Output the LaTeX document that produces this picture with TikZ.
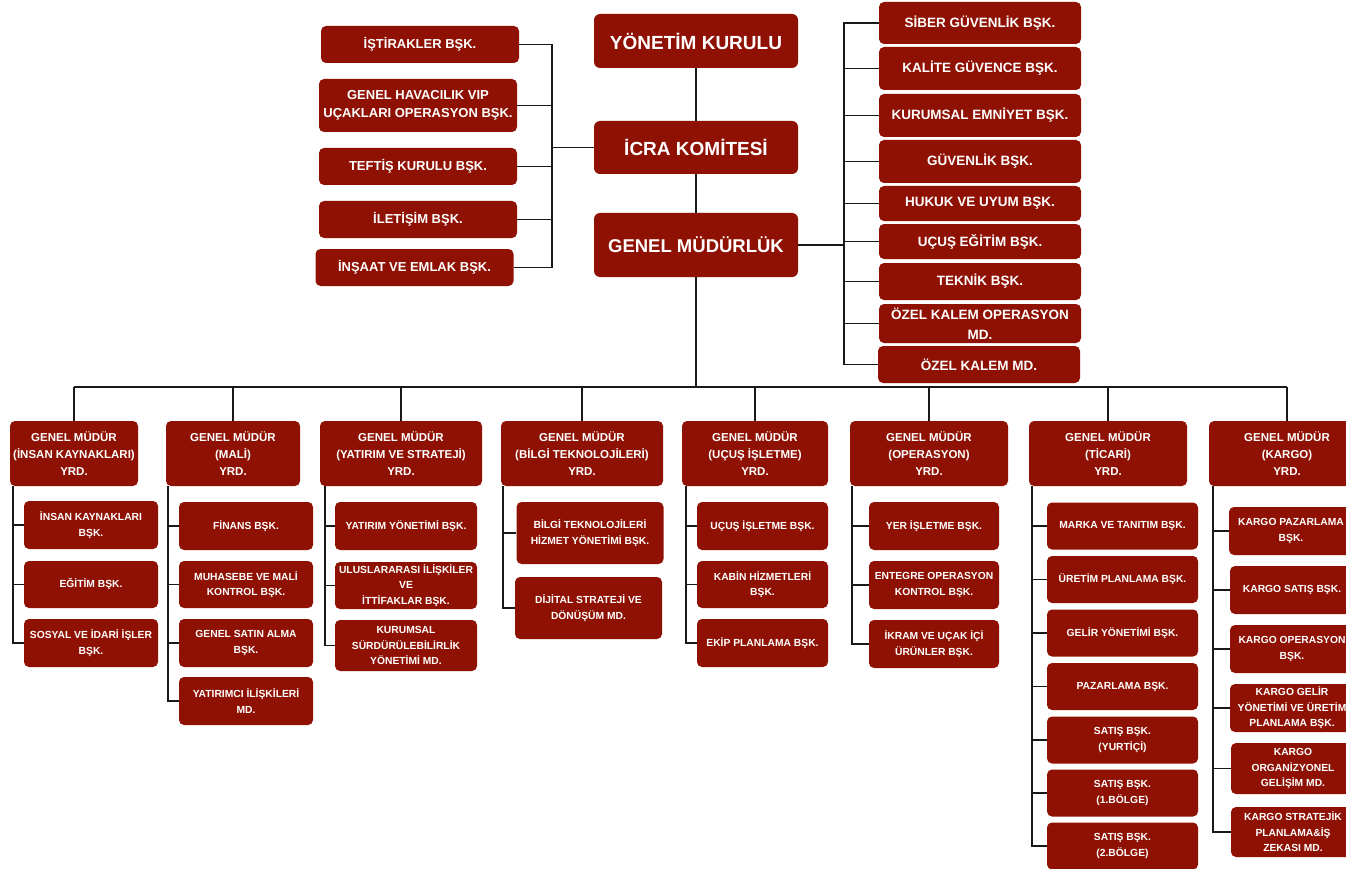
\documentclass[tikz,border=0pt]{standalone}
\usepackage{fontspec}
\setmainfont{Liberation Sans}
\definecolor{kirmizi}{RGB}{143,17,4}
\begin{document}
\begin{tikzpicture}[x=1pt,y=-1pt,
    kutu/.style={fill=kirmizi,text=white,rounded corners=5pt,inner sep=0pt,align=center,font=\bfseries\fontsize{10.3}{15.5}\selectfont},
    ust/.style={kutu,minimum width=204pt,rounded corners=6pt,font=\bfseries\fontsize{19}{22}\selectfont},
    sol/.style={kutu,minimum width=198pt,font=\bfseries\fontsize{13}{18}\selectfont},
    sag/.style={kutu,minimum width=202pt,font=\bfseries\fontsize{13.5}{20}\selectfont},
    yrd/.style={kutu,minimum height=65pt,font=\bfseries\fontsize{11.5}{17}\selectfont},
    hat/.style={line width=1.7pt,draw=black!90}]
    \path[fill=white,use as bounding box] (0,0) rectangle (1346,869);
    % ust kademe
    \node[ust,minimum height=54pt] (yk) at (696,41) {YÖNETİM KURULU};
    \node[ust,minimum height=53pt] (icra) at (696,147.5) {İCRA KOMİTESİ};
    \node[ust,minimum height=64pt,font=\bfseries\fontsize{18.5}{22}\selectfont] (gm) at (696,245) {GENEL MÜDÜRLÜK};
    % icra komitesine bagli
    \node[sol,minimum height=37pt] (ist) at (420,44.5) {İŞTİRAKLER BŞK.};
    \node[sol,minimum height=53pt] (hav) at (418,105.5) {GENEL HAVACILIK VIP\\UÇAKLARI OPERASYON BŞK.};
    \node[sol,minimum height=37pt] (tef) at (418,166.5) {TEFTİŞ KURULU BŞK.};
    \node[sol,minimum height=37pt] (ilt) at (418,219.5) {İLETİŞİM BŞK.};
    \node[sol,minimum height=37pt] (ins) at (414.5,267.5) {İNŞAAT VE EMLAK BŞK.};
    \coordinate (lbus) at (552,0);
    % genel mudurluge bagli
    \node[sag,minimum height=42pt] (sib) at (980,23) {SİBER GÜVENLİK BŞK.};
    \node[sag,minimum height=43pt] (kal) at (980,68.5) {KALİTE GÜVENCE BŞK.};
    \node[sag,minimum height=43pt] (kem) at (980,115.5) {KURUMSAL EMNİYET BŞK.};
    \node[sag,minimum height=43pt] (guv) at (980,161.5) {GÜVENLİK BŞK.};
    \node[sag,minimum height=35pt] (huk) at (980,203.5) {HUKUK VE UYUM BŞK.};
    \node[sag,minimum height=35pt] (uce) at (980,241.5) {UÇUŞ EĞİTİM BŞK.};
    \node[sag,minimum height=37pt] (tek) at (980,281.5) {TEKNİK BŞK.};
    \node[sag,minimum height=39pt] (okop) at (980,323.5) {ÖZEL KALEM OPERASYON\\MD.};
    \node[sag,minimum height=37pt] (okm) at (979,364.5) {ÖZEL KALEM MD.};
    \coordinate (rbus) at (844,0);
    % ust baglantilar
    \draw[hat] (yk.south) -- (icra.north) (icra.south) -- (gm.north);
    \draw[hat] (icra.west) -- (icra.west -| lbus);
    \draw[hat] (ist.east) -- (ist.east -| lbus) -- (ins.east -| lbus) -- (ins.east);
    \draw[hat] (hav.east) -- (hav.east -| lbus) (tef.east) -- (tef.east -| lbus) (ilt.east) -- (ilt.east -| lbus);
    \draw[hat] (gm.east) -- (gm.east -| rbus);
    \draw[hat] (sib.west) -- (sib.west -| rbus) -- (okm.west -| rbus) -- (okm.west);
    \draw[hat] (kal.west) -- (kal.west -| rbus) (kem.west) -- (kem.west -| rbus) (guv.west) -- (guv.west -| rbus)
        (huk.west) -- (huk.west -| rbus) (uce.west) -- (uce.west -| rbus) (tek.west) -- (tek.west -| rbus) (okop.west) -- (okop.west -| rbus);
    % genel mudur yardimcilari
    \node[yrd,minimum width=128pt] (gmik) at (74,453.5) {GENEL MÜDÜR\\(İNSAN KAYNAKLARI)\\YRD.};
    \node[yrd,minimum width=134pt] (gmmali) at (233,453.5) {GENEL MÜDÜR\\(MALİ)\\YRD.};
    \node[yrd,minimum width=162pt] (gmyat) at (401,453.5) {GENEL MÜDÜR\\(YATIRIM VE STRATEJİ)\\YRD.};
    \node[yrd,minimum width=162pt] (gmbt) at (582,453.5) {GENEL MÜDÜR\\(BİLGİ TEKNOLOJİLERİ)\\YRD.};
    \node[yrd,minimum width=146pt] (gmuc) at (755,453.5) {GENEL MÜDÜR\\(UÇUŞ İŞLETME)\\YRD.};
    \node[yrd,minimum width=158pt] (gmop) at (929,453.5) {GENEL MÜDÜR\\(OPERASYON)\\YRD.};
    \node[yrd,minimum width=158pt] (gmtic) at (1108,453.5) {GENEL MÜDÜR\\(TİCARİ)\\YRD.};
    \node[yrd,minimum width=156pt] (gmkar) at (1287,453.5) {GENEL MÜDÜR\\(KARGO)\\YRD.};
    \coordinate (alt) at (0,387);
    \draw[hat] (gm.south) -- (gm.south |- alt);
    \draw[hat] (gmik.north |- alt) -- (gmkar.north |- alt);
    \draw[hat] (gmik.north) -- (gmik.north |- alt) (gmmali.north) -- (gmmali.north |- alt)
        (gmyat.north) -- (gmyat.north |- alt) (gmbt.north) -- (gmbt.north |- alt)
        (gmuc.north) -- (gmuc.north |- alt) (gmop.north) -- (gmop.north |- alt)
        (gmtic.north) -- (gmtic.north |- alt) (gmkar.north) -- (gmkar.north |- alt);
    % insan kaynaklari
    \node[kutu,minimum width=134pt,minimum height=48pt] (ik1) at (91,525) {İNSAN KAYNAKLARI\\BŞK.};
    \node[kutu,minimum width=134pt,minimum height=47pt] (ik2) at (91,584.5) {EĞİTİM BŞK.};
    \node[kutu,minimum width=134pt,minimum height=48pt] (ik3) at (91,643) {SOSYAL VE İDARİ İŞLER\\BŞK.};
    \coordinate (b1) at (13,0);
    \draw[hat] (b1 |- gmik.south) -- (b1 |- ik3.west) -- (ik3.west) (ik1.west) -- (ik1.west -| b1) (ik2.west) -- (ik2.west -| b1);
    % mali
    \node[kutu,minimum width=134pt,minimum height=48pt] (ml1) at (246,526) {FİNANS BŞK.};
    \node[kutu,minimum width=134pt,minimum height=47pt] (ml2) at (246,584.5) {MUHASEBE VE MALİ\\KONTROL BŞK.};
    \node[kutu,minimum width=134pt,minimum height=48pt] (ml3) at (246,643) {GENEL SATIN ALMA\\BŞK.};
    \node[kutu,minimum width=134pt,minimum height=48pt] (ml4) at (246,701) {YATIRIMCI İLİŞKİLERİ\\MD.};
    \coordinate (b2) at (168,0);
    \draw[hat] (b2 |- gmmali.south) -- (b2 |- ml4.west) -- (ml4.west) (ml1.west) -- (ml1.west -| b2)
        (ml2.west) -- (ml2.west -| b2) (ml3.west) -- (ml3.west -| b2);
    % yatirim ve strateji
    \node[kutu,minimum width=142pt,minimum height=48pt] (yt1) at (406,526) {YATIRIM YÖNETİMİ BŞK.};
    \node[kutu,minimum width=142pt,minimum height=47pt] (yt2) at (406,585.5) {ULUSLARARASI İLİŞKİLER\\VE\\İTTİFAKLAR BŞK.};
    \node[kutu,minimum width=142pt,minimum height=51pt] (yt3) at (406,645.5) {KURUMSAL\\SÜRDÜRÜLEBİLİRLİK\\YÖNETİMİ MD.};
    \coordinate (b3) at (325,0);
    \draw[hat] (b3 |- gmyat.south) -- (b3 |- yt3.west) -- (yt3.west) (yt1.west) -- (yt1.west -| b3) (yt2.west) -- (yt2.west -| b3);
    % bilgi teknolojileri
    \node[kutu,minimum width=147pt,minimum height=62pt] (bt1) at (590,533) {BİLGİ TEKNOLOJİLERİ\\HİZMET YÖNETİMİ BŞK.};
    \node[kutu,minimum width=147pt,minimum height=62pt] (bt2) at (588.5,608) {DİJİTAL STRATEJİ VE\\DÖNÜŞÜM MD.};
    \coordinate (b4) at (503,0);
    \draw[hat] (b4 |- gmbt.south) -- (b4 |- bt2.west) -- (bt2.west) (bt1.west) -- (bt1.west -| b4);
    % ucus isletme
    \node[kutu,minimum width=131pt,minimum height=48pt] (uc1) at (762.5,526) {UÇUŞ İŞLETME BŞK.};
    \node[kutu,minimum width=131pt,minimum height=47pt] (uc2) at (762.5,584.5) {KABİN HİZMETLERİ\\BŞK.};
    \node[kutu,minimum width=131pt,minimum height=48pt] (uc3) at (762.5,643) {EKİP PLANLAMA BŞK.};
    \coordinate (b5) at (686,0);
    \draw[hat] (b5 |- gmuc.south) -- (b5 |- uc3.west) -- (uc3.west) (uc1.west) -- (uc1.west -| b5) (uc2.west) -- (uc2.west -| b5);
    % operasyon
    \node[kutu,minimum width=130pt,minimum height=48pt] (op1) at (934,526) {YER İŞLETME BŞK.};
    \node[kutu,minimum width=130pt,minimum height=48pt] (op2) at (934,585) {ENTEGRE OPERASYON\\KONTROL BŞK.};
    \node[kutu,minimum width=130pt,minimum height=48pt] (op3) at (934,644) {İKRAM VE UÇAK İÇİ\\ÜRÜNLER BŞK.};
    \coordinate (b6) at (852,0);
    \draw[hat] (b6 |- gmop.south) -- (b6 |- op3.west) -- (op3.west) (op1.west) -- (op1.west -| b6) (op2.west) -- (op2.west -| b6);
    % ticari
    \node[kutu,minimum width=151pt,minimum height=47pt] (tc1) at (1122.5,526) {MARKA VE TANITIM BŞK.};
    \node[kutu,minimum width=151pt,minimum height=47pt] (tc2) at (1122.5,579.5) {ÜRETİM PLANLAMA BŞK.};
    \node[kutu,minimum width=151pt,minimum height=47pt] (tc3) at (1122.5,633) {GELİR YÖNETİMİ BŞK.};
    \node[kutu,minimum width=151pt,minimum height=47pt] (tc4) at (1122.5,686.5) {PAZARLAMA BŞK.};
    \node[kutu,minimum width=151pt,minimum height=47pt] (tc5) at (1122.5,740) {SATIŞ BŞK.\\(YURTİÇİ)};
    \node[kutu,minimum width=151pt,minimum height=47pt] (tc6) at (1122.5,793) {SATIŞ BŞK.\\(1.BÖLGE)};
    \node[kutu,minimum width=151pt,minimum height=47pt] (tc7) at (1122.5,846) {SATIŞ BŞK.\\(2.BÖLGE)};
    \coordinate (b7) at (1032,0);
    \draw[hat] (b7 |- gmtic.south) -- (b7 |- tc7.west) -- (tc7.west) (tc1.west) -- (tc1.west -| b7)
        (tc2.west) -- (tc2.west -| b7) (tc3.west) -- (tc3.west -| b7) (tc4.west) -- (tc4.west -| b7)
        (tc5.west) -- (tc5.west -| b7) (tc6.west) -- (tc6.west -| b7);
    % kargo
    \node[kutu,minimum width=124pt,minimum height=48pt] (kr1) at (1291,531) {KARGO PAZARLAMA\\BŞK.};
    \node[kutu,minimum width=124pt,minimum height=48pt] (kr2) at (1292,590) {KARGO SATIŞ BŞK.};
    \node[kutu,minimum width=124pt,minimum height=48pt] (kr3) at (1292,649) {KARGO OPERASYON\\BŞK.};
    \node[kutu,minimum width=124pt,minimum height=48pt] (kr4) at (1292,708) {KARGO GELİR\\YÖNETİMİ VE ÜRETİM\\PLANLAMA BŞK.};
    \node[kutu,minimum width=124pt,minimum height=51pt] (kr5) at (1293,768.5) {KARGO\\ORGANİZYONEL\\GELİŞİM MD.};
    \node[kutu,minimum width=124pt,minimum height=50pt] (kr6) at (1293,832) {KARGO STRATEJİK\\PLANLAMA\&İŞ\\ZEKASI MD.};
    \coordinate (b8) at (1213,0);
    \draw[hat] (b8 |- gmkar.south) -- (b8 |- kr6.west) -- (kr6.west) (kr1.west) -- (kr1.west -| b8)
        (kr2.west) -- (kr2.west -| b8) (kr3.west) -- (kr3.west -| b8) (kr4.west) -- (kr4.west -| b8) (kr5.west) -- (kr5.west -| b8);
\end{tikzpicture}
\end{document}
